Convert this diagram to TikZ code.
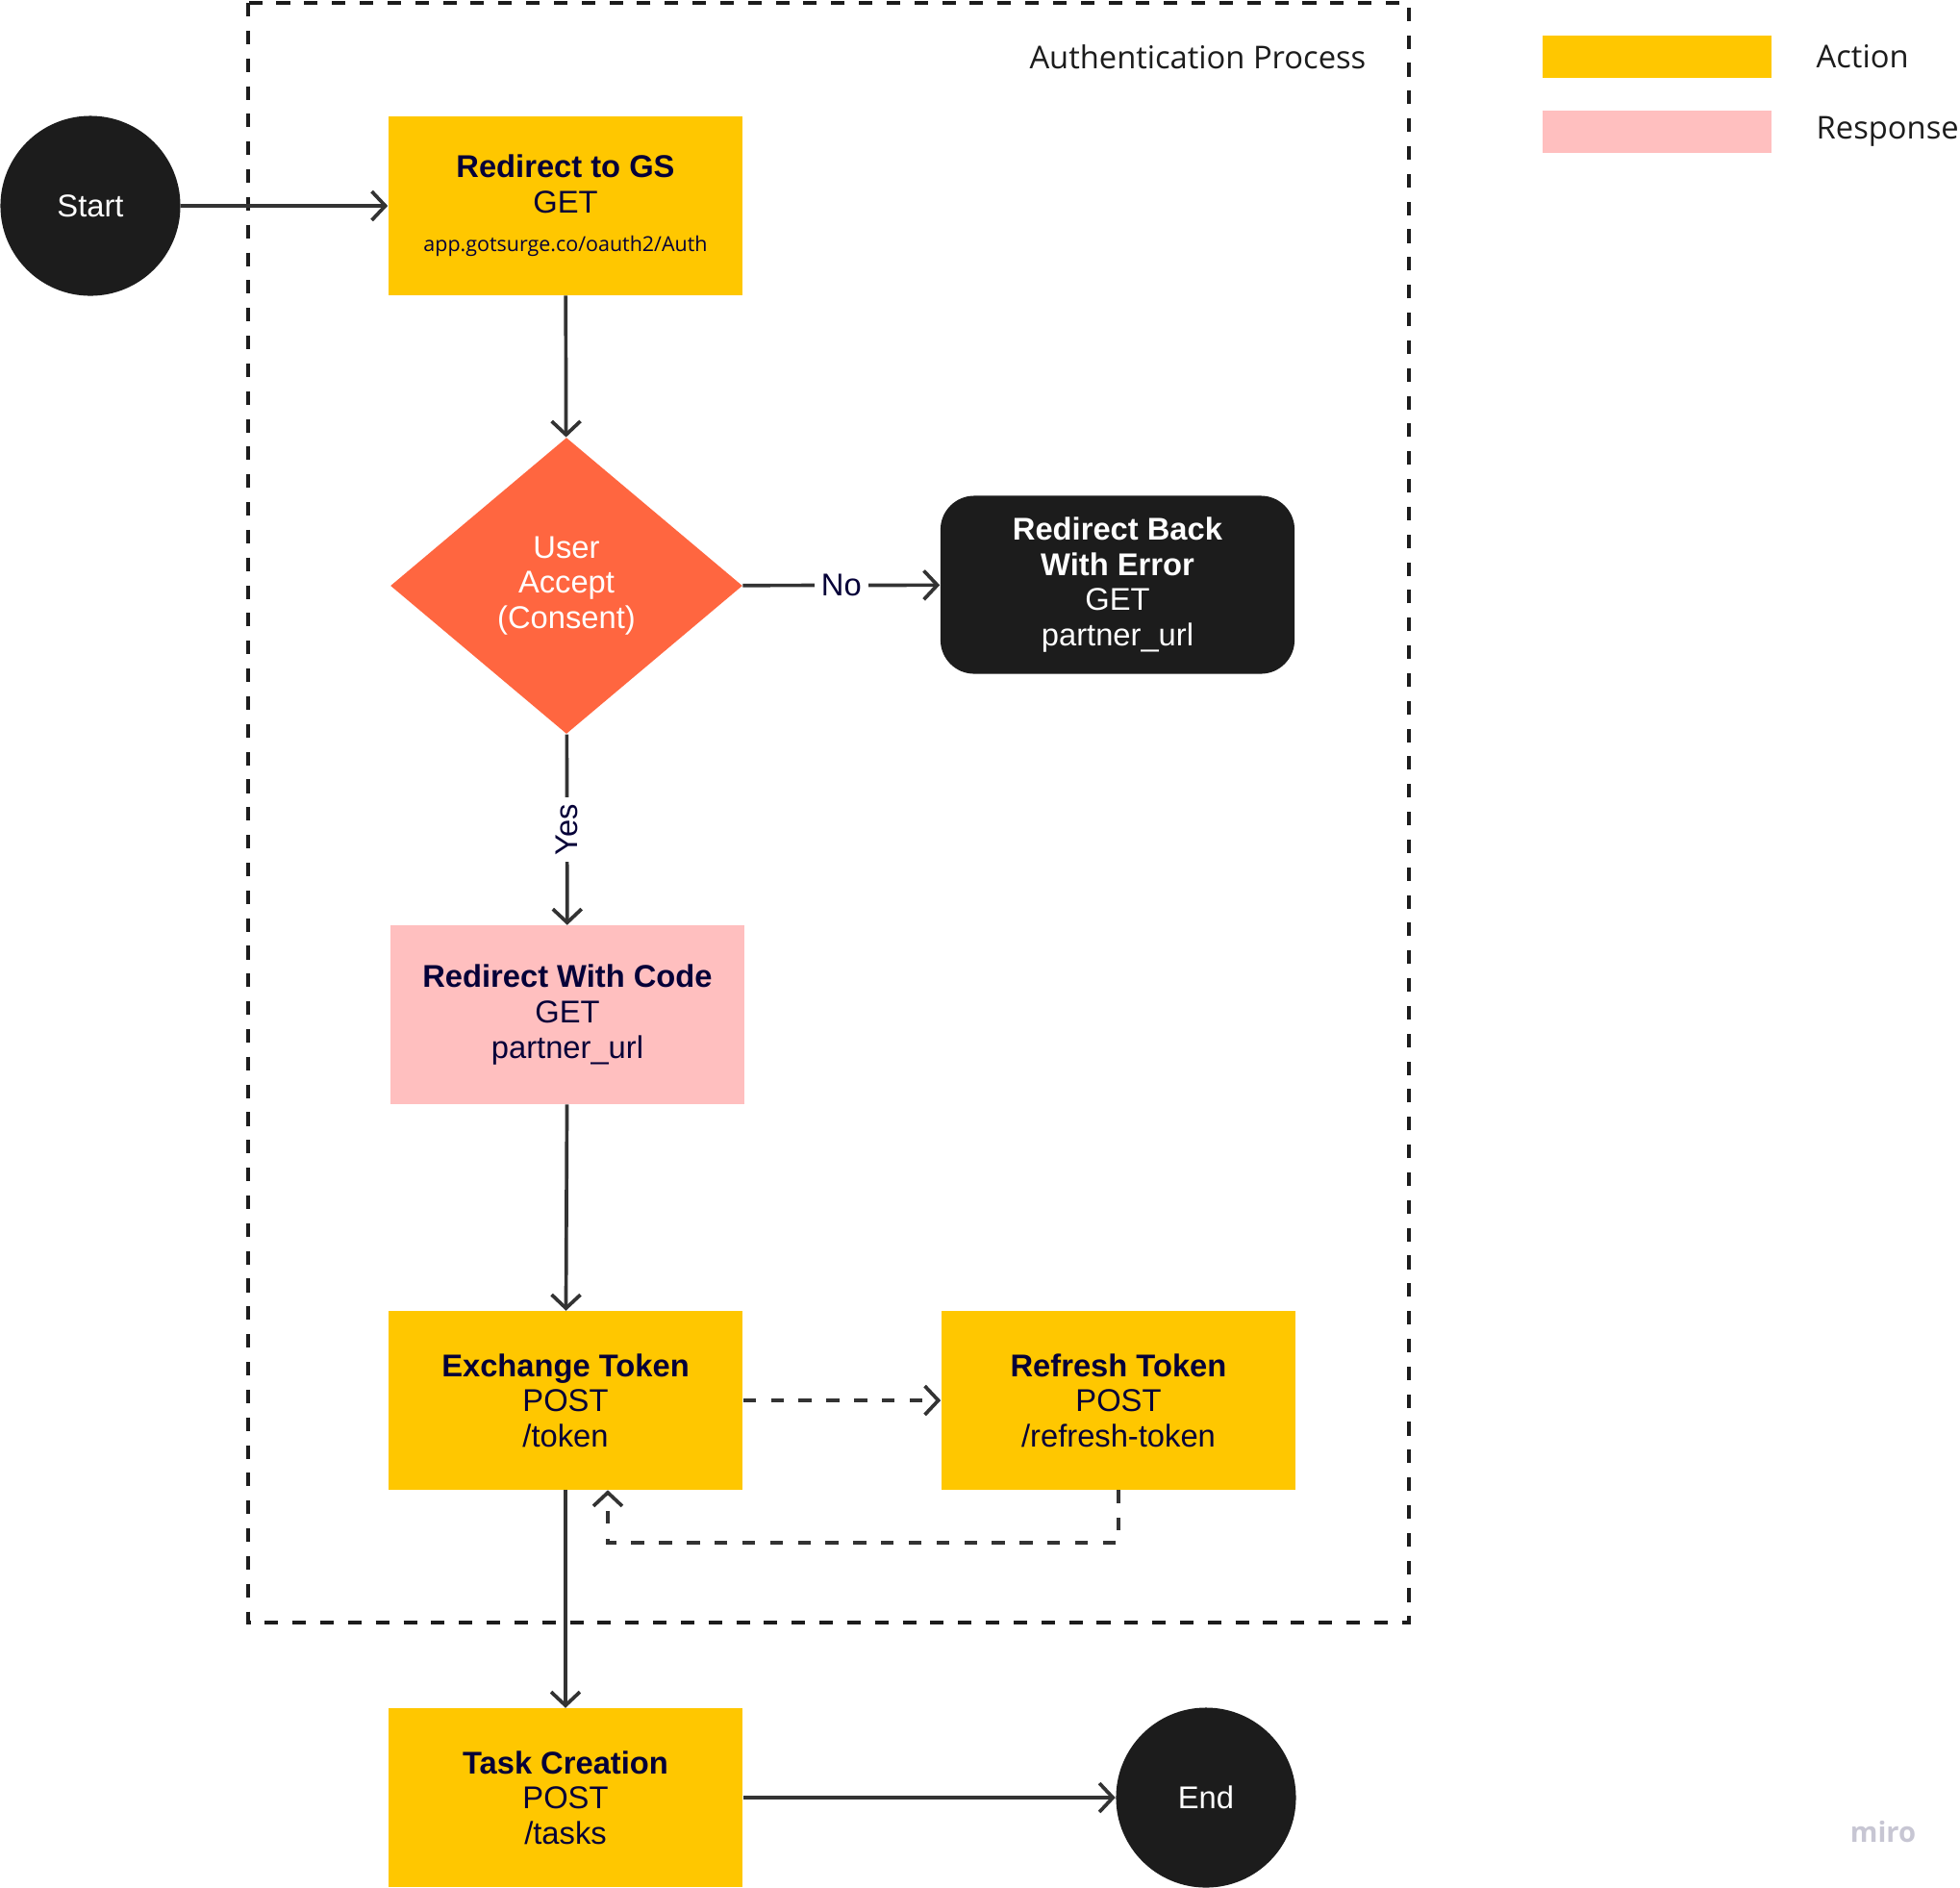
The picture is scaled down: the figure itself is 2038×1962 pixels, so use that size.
\documentclass[tikz,border=0pt]{standalone}
\usepackage{fontspec}
\setmainfont{Liberation Sans}
\newfontfamily\opensans{Open Sans}
\usetikzlibrary{arrows.meta,shapes.geometric}
\definecolor{actionyellow}{HTML}{FFC700}
\definecolor{responsepink}{HTML}{FFBFBF}
\definecolor{decisionorange}{HTML}{FF6640}
\definecolor{nodeblack}{HTML}{1C1C1C}
\definecolor{textnavy}{HTML}{050038}
\definecolor{linegray}{HTML}{333333}
\definecolor{mirogray}{HTML}{C7C6D3}
\begin{document}
\begin{tikzpicture}[x=0.01cm,y=-0.01cm,
                txt/.style={font=\fontsize{9.3}{10.4}\selectfont,align=center},
                action/.style={txt,rectangle,fill=actionyellow,text=textnavy,minimum width=3.68cm,minimum height=1.85cm,inner sep=0pt},
                response/.style={action,fill=responsepink},
                failbox/.style={action,fill=nodeblack,text=white,rounded corners=10pt},
                terminal/.style={txt,circle,fill=nodeblack,text=white,minimum size=1.87cm,inner sep=0pt},
                decision/.style={txt,diamond,fill=decisionorange,text=white,minimum width=3.66cm,minimum height=3.08cm,inner sep=0pt},
                flow/.style={draw=linegray,line width=1.05pt,-{Straight Barb[length=4pt,width=8.5pt]}},
                flowdash/.style={flow,dash pattern=on 3.8pt off 4.4pt},
                tag/.style={txt,fill=white,text=textnavy,inner sep=2pt},
                keybox/.style={rectangle,minimum width=2.37cm,minimum height=0.44cm,inner sep=0pt},
                keytext/.style={font=\opensans\fontsize{9.3}{11}\selectfont,text=nodeblack,anchor=west,inner sep=0pt}]
                \useasboundingbox (0,0) rectangle (2038,1962);
                \draw[nodeblack,line width=1pt,dash pattern=on 4pt off 4.2pt] (258,3) rectangle (1465,1687);
                \node[keytext,anchor=east] (title) at (1421,59) {Authentication Process};
                \node[keybox,fill=actionyellow] (keyaction) at (1723,59) {};
                \node[keybox,fill=responsepink] (keyresponse) at (1723,137) {};
                \node[keytext] (lblaction) at (1888,59) {Action};
                \node[keytext] (lblresponse) at (1888,137) {Response};
                \node[terminal] (start) at (94,214) {Start};
                \node[action] (gs) at (588,214) {\textbf{Redirect to GS}\\GET\\[1pt]{\opensans\fontsize{6.1}{7}\selectfont app.gotsurge.co/oauth2/Auth}};
                \node[decision] (accept) at (589,609) {User\\Accept\\(Consent)};
                \node[failbox] (err) at (1162,608) {\textbf{Redirect Back}\\\textbf{With Error}\\GET\\partner\_url};
                \node[response] (code) at (590,1055) {\textbf{Redirect With Code}\\GET\\partner\_url};
                \node[action] (exch) at (588,1456) {\textbf{Exchange Token}\\POST\\/token};
                \node[action] (refr) at (1163,1456) {\textbf{Refresh Token}\\POST\\/refresh-token};
                \node[action] (task) at (588,1869) {\textbf{Task Creation}\\POST\\/tasks};
                \node[terminal] (finish) at (1254,1869) {End};
                \coordinate (back) at (632,1604);
                \draw[flow] (start) -- (gs);
                \draw[flow] (gs) -- (accept);
                \draw[flow] (accept) -- node[tag] (no) {No} (err);
                \draw[flow] (accept) -- node[tag,rotate=90] (yes) {Yes} (code);
                \draw[flow] (code) -- (exch);
                \draw[flowdash] (exch) -- (refr);
                \draw[flowdash] (refr.south) |- (back) -- (back |- exch.south);
                \draw[flow] (exch) -- (task);
                \draw[flow] (task) -- (finish);
                \node[font=\opensans\bfseries\fontsize{8.3}{10}\selectfont,text=mirogray] (miro) at (1958,1905) {miro};
            \end{tikzpicture}
\end{document}
